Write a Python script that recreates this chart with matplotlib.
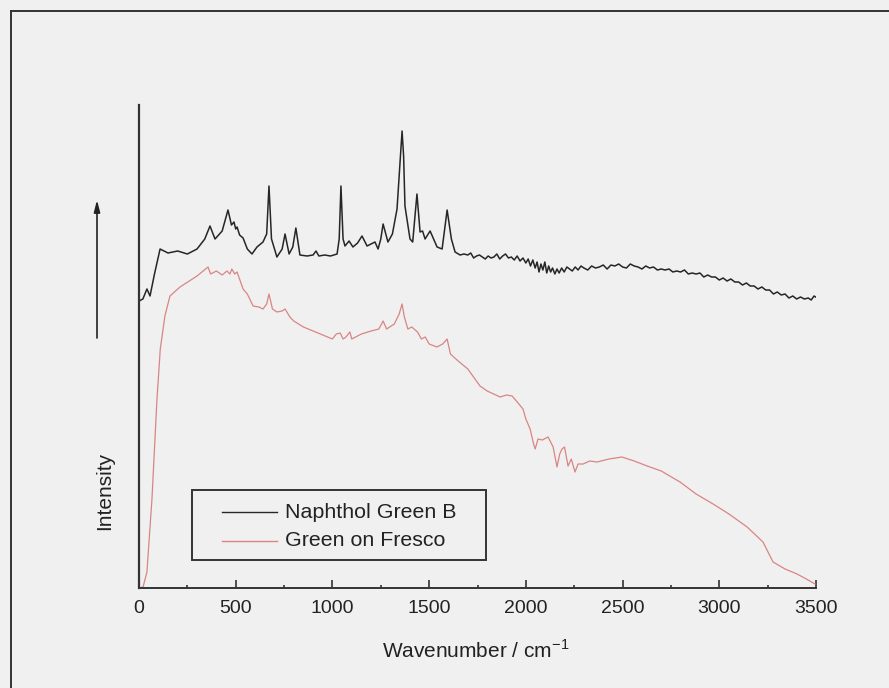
import matplotlib
matplotlib.use("Agg")
import matplotlib.pyplot as plt
from matplotlib.lines import Line2D
from matplotlib.patches import Rectangle
from matplotlib.ticker import MultipleLocator

plt.rcParams['font.family'] = ['Liberation Sans', 'DejaVu Sans']

# ---- data (intensity in arbitrary units) ----
naphthol_wn = [0, 20, 41, 57, 80, 109, 150, 200, 250, 300,
               340, 367, 393, 430, 460, 478, 491, 500, 507, 520,
               538, 560, 584, 610, 641, 660, 672, 685, 713, 740,
               755, 776, 795, 811, 832, 869, 900, 915, 930, 960,
               990, 1024, 1035, 1044, 1055, 1065, 1086, 1106, 1130, 1153,
               1179, 1200, 1220, 1236, 1250, 1262, 1287, 1310, 1334, 1345,
               1360, 1368, 1375, 1401, 1415, 1437, 1453, 1466, 1479, 1505,
               1541, 1567, 1593, 1615,
               1634, 1660, 1680, 1700, 1715, 1730, 1745, 1760, 1775, 1790,
               1805, 1820, 1835, 1850, 1865, 1880, 1895, 1910, 1925, 1940,
               1955, 1970, 1985, 2000, 2012, 2024, 2036, 2048, 2058, 2068,
               2078, 2088, 2098, 2108, 2118, 2128, 2138, 2150, 2161, 2172,
               2185, 2198, 2212, 2226, 2240, 2255, 2270, 2285, 2300, 2320,
               2340, 2360, 2380, 2400, 2420, 2440, 2460, 2480, 2500, 2520,
               2540, 2560, 2580, 2600, 2620, 2640, 2660, 2680, 2700, 2720,
               2740, 2760, 2780, 2800, 2820, 2840, 2860, 2880, 2900, 2920,
               2940, 2960, 2980, 3000, 3020, 3040, 3060, 3080, 3100, 3120,
               3140, 3160, 3180, 3200, 3220, 3240, 3260, 3280, 3300, 3320,
               3340, 3360, 3380, 3400, 3420, 3440, 3460, 3475, 3490, 3506]
naphthol_int = [287, 289, 299, 292, 314, 339, 335, 337, 334, 339,
                349, 362, 349, 357, 378, 363, 366, 359, 361, 353,
                350, 339, 334, 341, 346, 354, 402, 349, 331, 339,
                354, 334, 341, 360, 333, 332, 333, 337, 332, 333,
                332, 334, 349, 402, 349, 342, 347, 341, 345, 352,
                342, 344, 346, 339, 349, 364, 346, 354, 379, 412,
                457, 432, 382, 349, 346, 394, 356, 357, 349, 357,
                341, 339, 378, 349,
                336, 333, 334, 333, 335, 330, 332, 333, 331, 329,
                332, 330, 331, 334, 329, 332, 334, 330, 331, 328,
                332, 327, 330, 325, 329, 322, 328, 320, 326, 316,
                324, 318, 326, 315, 322, 316, 320, 314, 319, 315,
                320, 316, 321, 319, 317, 321, 318, 322, 320, 318,
                322, 320, 321, 323, 319, 323, 322, 324, 321, 320,
                324, 322, 321, 319, 322, 320, 321, 318, 319, 318,
                319, 316, 317, 316, 318, 314, 315, 314, 315, 311,
                313, 311, 311, 308, 310, 307, 309, 306, 306, 303,
                305, 302, 302, 299, 301, 298, 298, 294, 296, 293,
                294, 290, 292, 289, 291, 289, 290, 288, 292, 290]

fresco_wn = [0, 21, 41, 67, 93, 110, 134, 160, 212, 260,
             300, 357, 370, 400, 430, 455, 470, 480, 495, 507,
             538, 560, 590, 620, 641, 660, 672, 690, 713, 740,
             755, 780, 800, 850, 900, 950, 1000, 1020, 1040, 1055,
             1070, 1090, 1100, 1150, 1200, 1240, 1262, 1280, 1320, 1345,
             1360, 1372, 1390, 1410, 1440, 1460, 1480, 1500, 1540, 1570,
             1593, 1610, 1650, 1700, 1763, 1800, 1867, 1900, 1929, 1960,
             1985, 2000, 2022, 2040, 2048, 2063, 2085, 2115, 2141, 2161,
             2175, 2187, 2200, 2218, 2235, 2254, 2270, 2296, 2330, 2368,
             2430, 2497, 2560, 2627, 2700, 2797, 2880, 2968, 3050, 3144,
             3226, 3278, 3340, 3402, 3450, 3495]
fresco_int = [0, 1, 16, 89, 189, 239, 272, 292, 301, 307,
              312, 321, 314, 317, 313, 317, 314, 319, 314, 316,
              299, 294, 282, 281, 279, 284, 294, 279, 276, 277,
              279, 271, 267, 261, 257, 253, 249, 254, 255, 249,
              251, 256, 249, 254, 257, 259, 267, 259, 264, 274,
              284, 271, 259, 261, 256, 249, 251, 244, 241, 244,
              249, 234, 227, 219, 202, 197, 191, 193, 192, 185,
              179, 169, 159, 144, 139, 149, 148, 151, 141, 121,
              134, 139, 141, 122, 129, 116, 124, 124, 127, 126,
              129, 131, 127, 122, 117, 106, 94, 84, 74, 61,
              46, 26, 19, 14, 9, 4]

xticks = [0, 500, 1000, 1500, 2000, 2500, 3000, 3500]
series_labels = ['Naphthol Green B', 'Green on Fresco']
series_colors = ['#262626', '#d98585']

# ---- figure ----
W, H = 889, 688
fig = plt.figure(figsize=(W / 100, H / 100), dpi=100, facecolor='#f0f0f0')

def fx(px):
    return px / W

def fy(py):
    return 1 - py / H

ax = fig.add_axes([fx(139), fy(588), fx(816) - fx(139), fy(105) - fy(588)])
ax.set_facecolor('none')

ax.plot(naphthol_wn, naphthol_int, color=series_colors[0], lw=1.1)
ax.plot(fresco_wn, fresco_int, color=series_colors[1], lw=0.9)

ax.set_xlim(0, 3500)
ax.set_ylim(0, 483)
for s in ['top', 'right']:
    ax.spines[s].set_visible(False)
ax.spines['left'].set_linewidth(1.6)
ax.spines['bottom'].set_linewidth(1.4)
ax.spines['left'].set_color('#333333')
ax.spines['bottom'].set_color('#333333')
ax.set_yticks([])
ax.set_xticks(xticks)
ax.set_xticklabels([str(t) for t in xticks])
ax.xaxis.set_minor_locator(MultipleLocator(250))
ax.tick_params(axis='x', which='major', direction='in', length=6, width=1.2,
               color='#333333', labelsize=14, pad=8.5, labelcolor='#222222')
ax.tick_params(axis='x', which='minor', direction='in', length=2.5, width=1.2,
               color='#333333')

# axis labels
fig.text(fx(476), fy(650), r'Wavenumber / cm$^{\mathregular{-1}}$', ha='center', va='center',
         fontsize=15, color='#222222')
fig.text(fx(105), fy(491), 'Intensity', rotation=90, ha='center', va='center',
         fontsize=15, color='#222222')

# arrow
ax.annotate('', xy=(fx(97), fy(200)), xytext=(fx(97), fy(338)),
            xycoords='figure fraction', textcoords='figure fraction',
            arrowprops=dict(arrowstyle='-|>,head_length=0.7,head_width=0.18',
                            color='#222222', lw=1.2, shrinkA=0, shrinkB=0))

# legend box (manual)
fig.patches.append(Rectangle((fx(192), fy(560)), fx(486) - fx(192), fy(490) - fy(560),
                             transform=fig.transFigure, fill=False, edgecolor='#333333',
                             lw=1.4))
for ypix, lab, col in [(512, series_labels[0], series_colors[0]),
                       (541, series_labels[1], series_colors[1])]:
    fig.add_artist(Line2D([fx(222), fx(277)], [fy(ypix), fy(ypix)], color=col, lw=1.0,
                          transform=fig.transFigure))
    fig.text(fx(285), fy(ypix), lab, ha='left', va='center', fontsize=15.4, color='#222222')

# outer border (scanned frame)
fig.add_artist(Line2D([fx(10.5), fx(10.5)], [fy(10.5), 0], color='#333333', lw=1.4,
                      transform=fig.transFigure))
fig.add_artist(Line2D([fx(10.5), 1], [fy(10.5), fy(10.5)], color='#333333', lw=1.4,
                      transform=fig.transFigure))

fig.savefig('out.png', dpi=100, facecolor=fig.get_facecolor())
